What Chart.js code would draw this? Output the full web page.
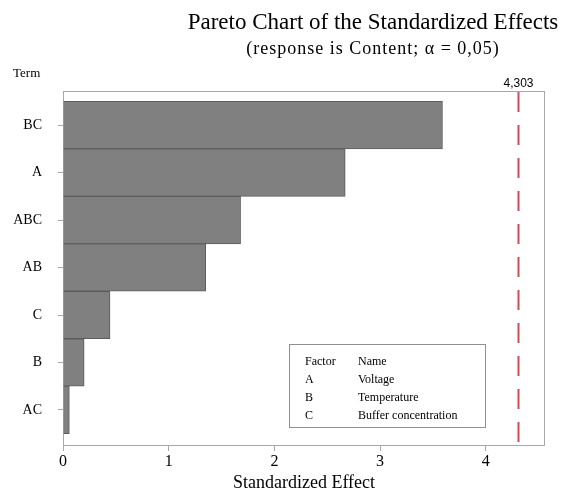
<!DOCTYPE html>
<html>
<head>
<meta charset="utf-8">
<script src="https://cdn.jsdelivr.net/npm/chart.js@4.4.1/dist/chart.umd.min.js"></script>
<style>
  html, body { margin: 0; padding: 0; background: #ffffff; }
  #wrap { width: 571px; height: 495px; }
</style>
</head>
<body>
<div id="wrap"><canvas id="chart" width="571" height="495"></canvas></div>
<script>
// Terms ordered by absolute standardized effect (largest first)
const terms = ['BC', 'A', 'ABC', 'AB', 'C', 'B', 'AC'];
const effects = [3.59, 2.67, 1.68, 1.35, 0.445, 0.20, 0.06];
const xTicks = [0, 1, 2, 3, 4];
const criticalValue = 4.303;
const criticalLabel = '4,303';
const factorCodes = ['A', 'B', 'C'];
const factorNames = ['Voltage', 'Temperature', 'Buffer concentration'];

const SERIF = '"Liberation Serif", "DejaVu Serif", serif';
const SANS = '"Liberation Sans", "DejaVu Sans", sans-serif';

// Frame, reference line, headings and factor key
const decorations = {
  id: 'decorations',
  beforeDatasetsDraw(chart) {
    const { ctx, chartArea: a } = chart;
    ctx.save();
    ctx.strokeStyle = '#a8a8a8';
    ctx.lineWidth = 1;
    ctx.strokeRect(a.left + 0.5, a.top + 0.5, a.right - a.left - 1, a.bottom - a.top - 1);
    ctx.restore();
  },
  afterDatasetsDraw(chart) {
    const { ctx, chartArea: a, scales } = chart;
    const xr = Math.round(scales.x.getPixelForValue(criticalValue)) + 0.5;
    ctx.save();
    ctx.strokeStyle = '#d64a55';
    ctx.lineWidth = 2;
    ctx.setLineDash([20, 13]);
    ctx.beginPath();
    ctx.moveTo(xr, a.top + 1);
    ctx.lineTo(xr, a.bottom - 1);
    ctx.stroke();
    ctx.setLineDash([]);

    ctx.fillStyle = '#000';
    ctx.font = '12px ' + SANS;
    ctx.textAlign = 'center';
    ctx.textBaseline = 'alphabetic';
    ctx.fillText(criticalLabel, xr, a.top - 4);

    // Headings
    ctx.font = '23px ' + SERIF;
    ctx.fillText('Pareto Chart of the Standardized Effects', 373, 29);
    ctx.font = '18px ' + SERIF;
    ctx.letterSpacing = '1px';
    ctx.fillText('(response is Content; \u03b1 = 0,05)', 373, 54);
    ctx.letterSpacing = '0px';
    ctx.textAlign = 'left';
    ctx.font = '13px ' + SERIF;
    ctx.fillText('Term', 13, 77);

    // Factor key
    const bx = 289, by = 344, bw = 196, bh = 83;
    ctx.fillStyle = '#ffffff';
    ctx.fillRect(bx, by, bw, bh);
    ctx.strokeStyle = '#909090';
    ctx.lineWidth = 1;
    ctx.strokeRect(bx + 0.5, by + 0.5, bw, bh);
    ctx.fillStyle = '#000';
    ctx.font = '12px ' + SERIF;
    ctx.fillText('Factor', 305, 365);
    ctx.fillText('Name', 358, 365);
    factorCodes.forEach((c, i) => {
      const y = 383 + i * 18;
      ctx.fillText(c, 305, y);
      ctx.fillText(factorNames[i], 358, y);
    });
    ctx.restore();
  }
};

const integerTicks = (scale) => {
  scale.ticks = xTicks.map(v => ({ value: v }));
};

new Chart(document.getElementById('chart'), {
  type: 'bar',
  data: {
    datasets: [{
      data: effects.map((v, i) => ({ x: v, y: i })),
      backgroundColor: '#808080',
      borderColor: '#5c5c5c',
      borderWidth: 1,
      categoryPercentage: 1,
      barPercentage: 1
    }]
  },
  options: {
    responsive: false,
    animation: false,
    indexAxis: 'y',
    layout: { padding: { top: 91, right: 26, left: 0, bottom: 0 } },
    plugins: {
      legend: { display: false },
      tooltip: { enabled: false },
      title: { display: false }
    },
    scales: {
      x: {
        type: 'linear',
        min: 0,
        max: 4.56,
        offset: false,
        afterFit: (s) => { s.height = 49; },
        afterBuildTicks: integerTicks,
        ticks: {
          color: '#000',
          font: { family: SERIF, size: 16 },
          padding: 1,
          maxRotation: 0
        },
        grid: { offset: false, drawOnChartArea: false, drawTicks: true, tickLength: 5, color: '#a8a8a8' },
        border: { display: false },
        title: {
          display: true,
          text: 'Standardized Effect',
          color: '#000',
          font: { family: SERIF, size: 18 },
          padding: { top: 0, bottom: 1 }
        }
      },
      y: {
        type: 'linear',
        reverse: true,
        min: -0.72,
        max: 6.76,
        offset: false,
        afterFit: (s) => { s.width = 63; },
        afterBuildTicks: (s) => {
          s.ticks = terms.map((_, i) => ({ value: i }));
        },
        ticks: {
          color: '#000',
          font: { family: SERIF, size: 14 },
          padding: 16,
          callback: (v) => terms[v] ?? ''
        },
        grid: { offset: false, drawOnChartArea: false, drawTicks: true, tickLength: 5, color: '#a8a8a8' },
        border: { display: false }
      }
    }
  },
  plugins: [decorations]
});
</script>
</body>
</html>
